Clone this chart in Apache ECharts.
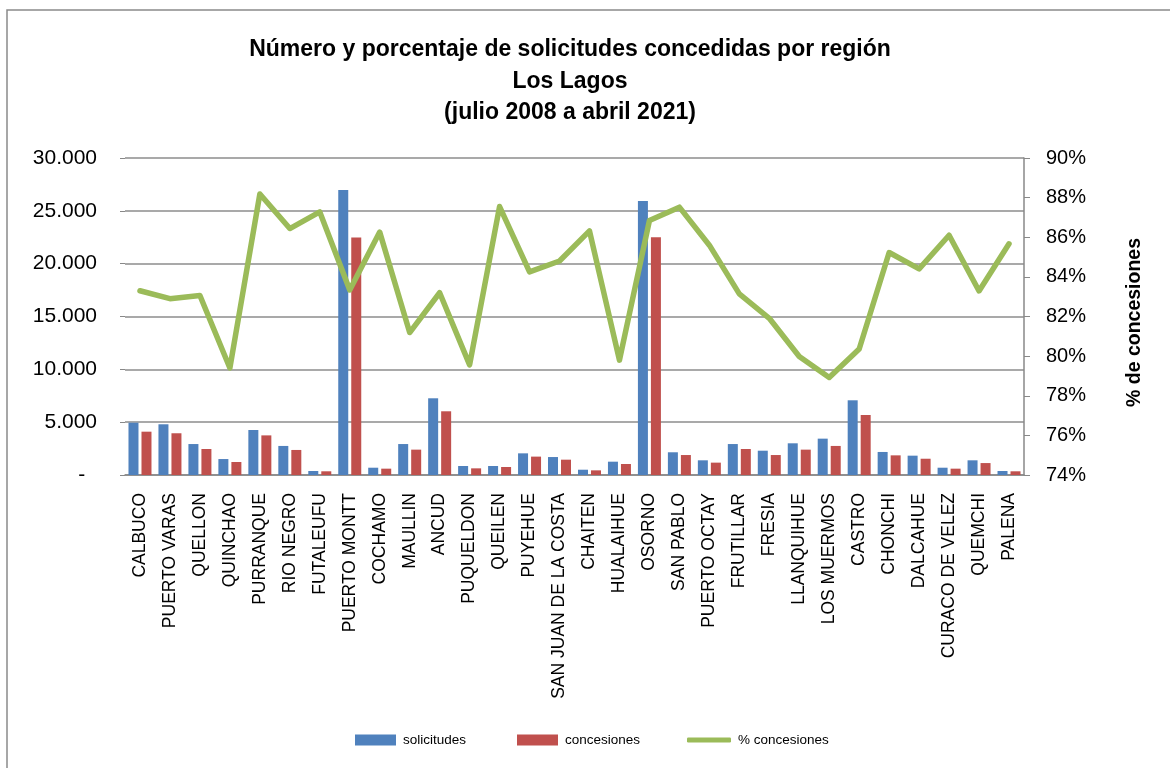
<!DOCTYPE html>
<html>
<head>
<meta charset="utf-8">
<script src="https://cdn.jsdelivr.net/npm/echarts@6/dist/echarts.min.js"></script>
<style>
html,body{margin:0;padding:0;background:#fff;}
#chart{width:1170px;height:768px;}
</style>
</head>
<body>
<div id="chart"></div>
<script>
const categories = ["CALBUCO","PUERTO VARAS","QUELLON","QUINCHAO","PURRANQUE","RIO NEGRO","FUTALEUFU","PUERTO MONTT","COCHAMO","MAULLIN","ANCUD","PUQUELDON","QUEILEN","PUYEHUE","SAN JUAN DE LA COSTA","CHAITEN","HUALAIHUE","OSORNO","SAN PABLO","PUERTO OCTAY","FRUTILLAR","FRESIA","LLANQUIHUE","LOS MUERMOS","CASTRO","CHONCHI","DALCAHUE","CURACO DE VELEZ","QUEMCHI","PALENA"];
const solicitudes = [4950,4800,2930,1510,4260,2750,380,26960,690,2930,7260,850,850,2050,1700,500,1260,25920,2150,1390,2930,2300,3000,3440,7070,2180,1830,690,1390,380];
const concesiones = [4100,3950,2460,1230,3750,2370,350,22470,600,2400,6030,630,760,1740,1450,440,1040,22500,1890,1170,2460,1890,2400,2750,5680,1860,1540,600,1130,350];
const pctConcesiones = [83.3,82.9,83.06,79.4,88.18,86.44,87.28,83.34,86.26,81.19,83.2,79.56,87.55,84.25,84.8,86.32,79.8,86.84,87.52,85.6,83.14,81.91,79.98,78.92,80.36,85.23,84.4,86.1,83.29,85.67];
const leftTicks = {min:0, max:30000, interval:5000};
const rightTicks = {min:74, max:90, interval:2};
const titleLines = ["Número y porcentaje de solicitudes concedidas por región","Los Lagos","(julio 2008 a abril 2021)"];

const FONT = "Liberation Sans";
const chart = echarts.init(document.getElementById('chart'), null, {renderer:'canvas'});

function fmtThousands(v){
  if (v === 0) return '-  ';
  return String(v).replace(/\B(?=(\d{3})+(?!\d))/g, '.');
}

const legendBase = {
  orient:'horizontal', top:728, itemWidth:41, itemHeight:11,
  textStyle:{fontFamily:FONT, fontSize:13.5, color:'#000', padding:[0,0,0,2]},
  selectedMode:false
};

chart.setOption({
  animation:false,
  backgroundColor:'#fff',
  graphic:[{
    type:'rect', shape:{x:7, y:10, width:1300, height:900},
    style:{fill:null, stroke:'#8a8a8a', lineWidth:1.5}, silent:true, z:-10
  }],
  title:{
    text:titleLines.join('\n'),
    left:565, top:29, textAlign:'center',
    textStyle:{fontFamily:FONT, fontWeight:'bold', fontSize:23, lineHeight:31.5, color:'#000'}
  },
  legend:[
    Object.assign({}, legendBase, {left:350, data:[{name:'solicitudes', icon:'rect'}]}),
    Object.assign({}, legendBase, {left:512, data:[{name:'concesiones', icon:'rect'}]}),
    Object.assign({}, legendBase, {left:682, itemWidth:44, itemHeight:5,
      data:[{name:'% concesiones', icon:'roundRect', itemStyle:{color:'#9BBB59', borderWidth:0}}]})
  ],
  grid:{left:125, right:146, top:158, bottom:293, containLabel:false},
  xAxis:{
    type:'category', data:categories,
    axisLine:{show:true, lineStyle:{color:'#888', width:1.5}},
    axisTick:{show:false},
    axisLabel:{interval:0, rotate:90, margin:18, fontFamily:FONT, fontSize:17.5, color:'#000'}
  },
  yAxis:[
    {
      type:'value', min:leftTicks.min, max:leftTicks.max, interval:leftTicks.interval,
      axisLine:{show:false},
      axisTick:{show:true, length:5, lineStyle:{color:'#888'}},
      splitLine:{show:true, lineStyle:{color:'#8c8c8c', width:1.5}},
      axisLabel:{formatter:fmtThousands, margin:28, fontFamily:FONT, fontSize:21, color:'#000'}
    },
    {
      type:'value', position:'right', min:rightTicks.min, max:rightTicks.max, interval:rightTicks.interval,
      axisLine:{show:true, lineStyle:{color:'#888', width:1.5}},
      axisTick:{show:true, length:6, lineStyle:{color:'#888'}},
      splitLine:{show:false},
      axisLabel:{formatter:'{value}%', margin:22, fontFamily:FONT, fontSize:20, color:'#000'},
      name:'% de concesiones', nameLocation:'middle', nameRotate:90, nameGap:101,
      nameTextStyle:{fontFamily:FONT, fontWeight:'bold', fontSize:19.5, color:'#000', padding:[0,12,0,0]}
    }
  ],
  series:[
    {name:'solicitudes', type:'bar', yAxisIndex:0, data:solicitudes, barWidth:10, barGap:'30%',
     itemStyle:{color:'#4F81BD'}},
    {name:'concesiones', type:'bar', yAxisIndex:0, data:concesiones, barWidth:10, barGap:'30%',
     itemStyle:{color:'#C0504D'}},
    {name:'% concesiones', type:'line', yAxisIndex:1, data:pctConcesiones, symbol:'none', showSymbol:false,
     lineStyle:{color:'#9BBB59', width:5.5, cap:'round', join:'round'}, itemStyle:{color:'#9BBB59'}, z:5}
  ]
});
</script>
</body>
</html>
